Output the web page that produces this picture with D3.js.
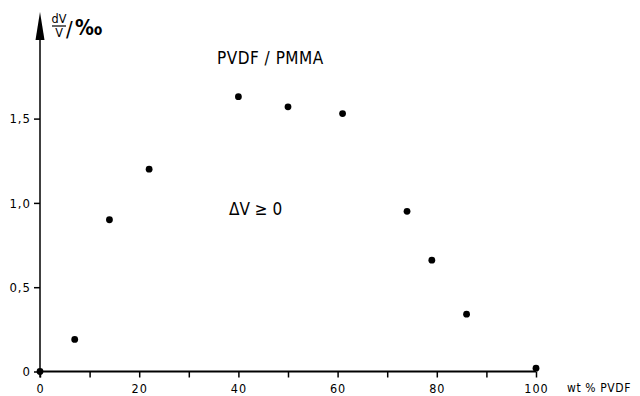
<!DOCTYPE html>
<html>
<head>
<meta charset="utf-8">
<script src="https://cdn.jsdelivr.net/npm/d3@7"></script>
<style>
  body { margin: 0; background: #fff; }
  text { font-family: "DejaVu Sans Condensed", "Liberation Sans Narrow", "DejaVu Sans", sans-serif; fill: #000; }
</style>
</head>
<body>
<div class="chart"></div>
<script>
'use strict';

// values (wt % PVDF vs dV/V in per mille)
var wtPVDF = [0, 7, 14, 22, 40, 50, 61, 74, 79, 86, 100];
var dVV = [0, 0.19, 0.90, 1.20, 1.63, 1.57, 1.53, 0.95, 0.66, 0.34, 0.02];
var xTicks = [0, 10, 20, 30, 40, 50, 60, 70, 80, 90, 100];
var xLabels = [0, 20, 40, 60, 80, 100];
var yTicks = [0, 0.5, 1.0, 1.5];

var width = 640,
    height = 396;

var x = d3.scaleLinear()
        .domain([0, 100])
        .range([40, 536]);
var y = d3.scaleLinear()
        .domain([0, 1.5])
        .range([371.5, 118.6]);

var svg = d3.select(".chart").append("svg")
        .attr("width", width)
        .attr("height", height);

// x axis: ticks every 10, labels every 20
var xAxis = svg.append("g")
        .attr("transform", "translate(0," + y(0) + ")")
        .call(d3.axisBottom(x)
            .tickValues(xTicks)
            .tickSize(6)
            .tickPadding(7)
            .tickFormat(function (d) {
                return xLabels.indexOf(d) >= 0 ? d : "";
            }));
xAxis.select(".domain").remove();
xAxis.selectAll("line").attr("stroke", "#000").attr("stroke-width", 1.5);
xAxis.selectAll("text")
        .attr("font-size", 12.5)
        .attr("letter-spacing", 1)
        .attr("font-family", null);

// y axis
var yAxis = svg.append("g")
        .attr("transform", "translate(" + x(0) + ",0)")
        .call(d3.axisLeft(y)
            .tickValues(yTicks)
            .tickSize(6)
            .tickPadding(3)
            .tickFormat(function (d) {
                return d === 0 ? "0" : d3.format(".1f")(d).replace(".", ",");
            }));
yAxis.select(".domain").remove();
yAxis.selectAll("line").attr("stroke", "#000").attr("stroke-width", 1.5);
yAxis.selectAll("text")
        .attr("font-size", 13)
        .attr("letter-spacing", 1)
        .attr("font-family", null);

// axis lines
svg.append("line")
        .attr("x1", x(0)).attr("x2", x(100))
        .attr("y1", y(0)).attr("y2", y(0))
        .attr("stroke", "#000")
        .attr("stroke-width", 1.8);
svg.append("line")
        .attr("x1", x(0)).attr("x2", x(0))
        .attr("y1", y(0) + 6).attr("y2", 30)
        .attr("stroke", "#000")
        .attr("stroke-width", 1.5);

// arrow head on y axis
svg.append("path")
        .attr("d", "M" + x(0) + ",12 L" + (x(0) - 4.5) + ",40 L" + (x(0) + 4.5) + ",40 Z")
        .attr("fill", "#000");

// y label: dV over V, then /‰
var yl = svg.append("g").attr("font-size", 12.5);
yl.append("text").attr("x", 59).attr("y", 23).attr("text-anchor", "middle").text("dV");
yl.append("line")
        .attr("x1", 52).attr("x2", 66)
        .attr("y1", 26).attr("y2", 26)
        .attr("stroke", "#000").attr("stroke-width", 1.2);
yl.append("text").attr("x", 59).attr("y", 37).attr("text-anchor", "middle").text("V");
svg.append("text")
        .attr("x", 66).attr("y", 37)
        .attr("font-size", 22)
        .text("/");
svg.append("text")
        .attr("x", 75).attr("y", 35)
        .attr("font-size", 21)
        .attr("font-weight", "bold")
        .text("‰");

// x label
svg.append("text")
        .attr("x", 567).attr("y", 392)
        .attr("font-size", 12)
        .attr("letter-spacing", 0.6)
        .text("wt % PVDF");

// annotations
svg.append("text")
        .attr("x", 217).attr("y", 64)
        .attr("font-size", 17)
        .attr("letter-spacing", 0.5)
        .text("PVDF / PMMA");
svg.append("text")
        .attr("x", 229).attr("y", 215)
        .attr("font-size", 17)
        .text("ΔV ≥ 0");

// points
svg.append("g")
        .selectAll("circle")
        .data(wtPVDF)
        .enter().append("circle")
        .attr("cx", function (d) { return x(d); })
        .attr("cy", function (d, i) { return y(dVV[i]); })
        .attr("r", 3.4)
        .attr("fill", "#000");
</script>
</body>
</html>
